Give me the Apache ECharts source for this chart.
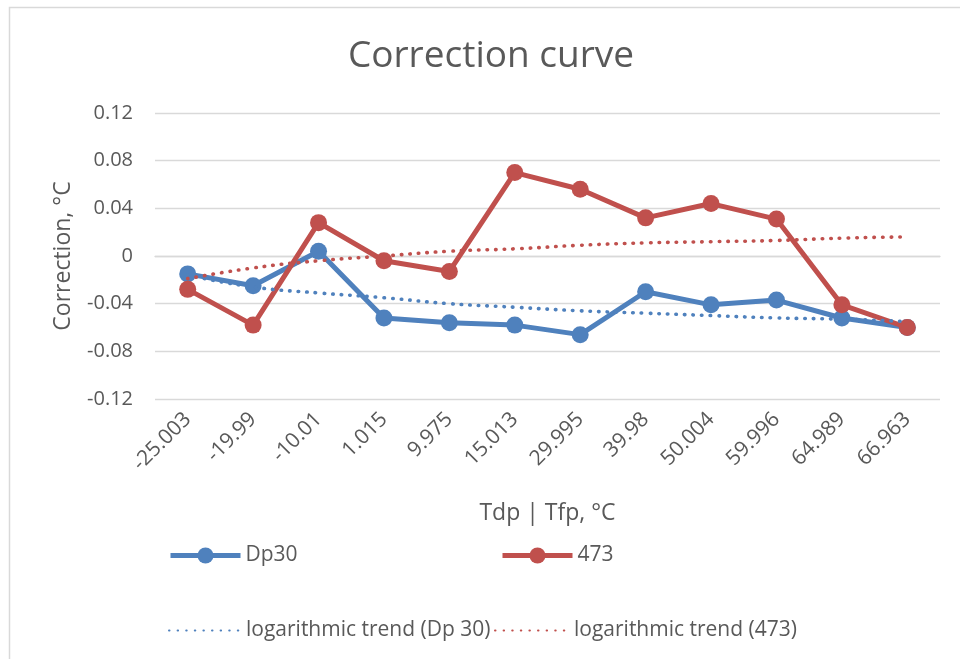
<!DOCTYPE html>
<html>
<head>
<meta charset="utf-8">
<script src="https://cdn.jsdelivr.net/npm/echarts@6/dist/echarts.min.js"></script>
<style>
	html, body { margin: 0; padding: 0; background: #fff; }
	#chart { width: 960px; height: 659px; }
</style>
</head>
<body>
<div id="chart"></div>
<script>
	// categories: Tdp | Tfp, °C
	const temps = ['-25.003', '-19.99', '-10.01', '1.015', '9.975', '15.013', '29.995', '39.98', '50.004', '59.996', '64.989', '66.963'];
	// correction values
	const dp30 = [-0.015, -0.025, 0.004, -0.052, -0.056, -0.058, -0.066, -0.030, -0.041, -0.037, -0.052, -0.060];
	const s473 = [-0.028, -0.058, 0.028, -0.004, -0.013, 0.070, 0.056, 0.032, 0.044, 0.031, -0.041, -0.060];
	// trend lines
	const trendDp30 = [-0.016, -0.026, -0.031, -0.035, -0.040, -0.043, -0.046, -0.048, -0.050, -0.052, -0.053, -0.055];
	const trend473 = [-0.019, -0.010, -0.004, 0.000, 0.004, 0.006, 0.009, 0.011, 0.012, 0.013, 0.015, 0.016];
	const yTicks = [-0.12, -0.08, -0.04, 0, 0.04, 0.08, 0.12];

	const BLUE = '#4f81bd';
	const RED = '#c0504d';
	const TEXT = '#595959';
	const FONT = '"Open Sans", "Noto Sans", sans-serif';

	const chart = echarts.init(document.getElementById('chart'));

	// one legend per item, placed like the original
	const legendItem = (name, left, top, textGap, extra) => ({
		orient: 'horizontal',
		padding: 0,
		left: left,
		top: top,
		itemWidth: 70,
		itemHeight: 20,
		selectedMode: false,
		textStyle: { color: TEXT, fontSize: 21, fontFamily: FONT, padding: [0, 0, 0, textGap] },
		data: [{ name: name, ...extra }]
	});

	chart.setOption({
		animation: false,
		backgroundColor: '#fff',
		textStyle: { fontFamily: FONT },
		graphic: [{
			type: 'rect',
			shape: { x: 9.5, y: 7.5, width: 1000, height: 700 },
			style: { fill: 'none', stroke: '#d9d9d9', lineWidth: 1.5 },
			silent: true
		}],
		title: {
			text: 'Correction curve',
			left: 486,
			textAlign: 'center',
			top: 33,
			textStyle: { color: TEXT, fontSize: 37, fontWeight: 'normal', fontFamily: FONT }
		},
		legend: [
			legendItem('Dp30', 168, 545, 0, { lineStyle: { width: 5 } }),
			legendItem('473', 500, 545, 0, { lineStyle: { width: 5 } }),
			legendItem('logarithmic trend (Dp 30)', 168, 620, 2, { itemStyle: { opacity: 0 } }),
			legendItem('logarithmic trend (473)', 494, 620, 4, { itemStyle: { opacity: 0 } })
		],
		grid: { left: 155, right: 20, top: 113, bottom: 260 },
		xAxis: {
			type: 'category',
			data: temps,
			boundaryGap: true,
			name: 'Tdp | Tfp, °C',
			nameLocation: 'middle',
			nameGap: 103,
			nameTextStyle: { color: TEXT, fontSize: 23, fontFamily: FONT },
			axisLine: { lineStyle: { color: '#d9d9d9', width: 1.3 } },
			axisTick: { show: false },
			axisLabel: { color: TEXT, fontSize: 21, rotate: 45, margin: 17, fontFamily: FONT }
		},
		yAxis: {
			type: 'value',
			min: yTicks[0],
			max: yTicks[yTicks.length - 1],
			interval: 0.04,
			name: 'Correction, °C',
			nameLocation: 'middle',
			nameGap: 80,
			nameTextStyle: { color: TEXT, fontSize: 23, fontFamily: FONT },
			axisLine: { show: false },
			axisTick: { show: false },
			axisLabel: {
				color: TEXT, fontSize: 20, margin: 22, fontFamily: FONT,
				formatter: v => {
					const r = Math.round(v * 100) / 100;
					return r === 0 ? '0' : String(r);
				}
			},
			splitLine: { lineStyle: { color: '#d9d9d9', width: 1.3 } }
		},
		series: [
			{
				name: 'Dp30', type: 'line', data: dp30,
				symbol: 'circle', symbolSize: 17,
				itemStyle: { color: BLUE },
				lineStyle: { color: BLUE, width: 5 },
				z: 2
			},
			{
				name: '473', type: 'line', data: s473,
				symbol: 'circle', symbolSize: 17,
				itemStyle: { color: RED },
				lineStyle: { color: RED, width: 5 },
				z: 3
			},
			{
				name: 'logarithmic trend (Dp 30)', type: 'line', data: trendDp30,
				symbol: 'none', smooth: true,
				itemStyle: { color: BLUE },
				lineStyle: { color: BLUE, width: 3.6, type: [0.5, 8.1], cap: 'round' },
				z: 4
			},
			{
				name: 'logarithmic trend (473)', type: 'line', data: trend473,
				symbol: 'none', smooth: true,
				itemStyle: { color: RED },
				lineStyle: { color: RED, width: 3.6, type: [0.5, 8.1], cap: 'round' },
				z: 4
			}
		]
	});
</script>
</body>
</html>
